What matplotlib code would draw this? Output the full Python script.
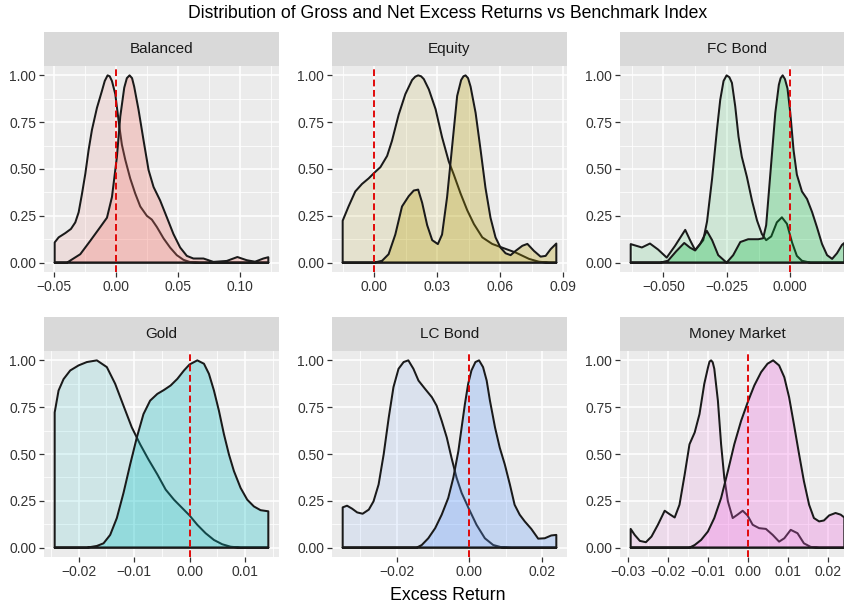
import matplotlib.pyplot as plt
from matplotlib.colors import to_rgba

plt.rcParams['font.family'] = ['Liberation Sans', 'DejaVu Sans']

# densities scaled so each curve peaks at 1
balanced_x_net = [-0.0493, -0.0461, -0.0407, -0.0362, -0.0327, -0.0300, -0.0273, -0.0246, -0.0220, -0.0193,
                  -0.0153, -0.0113, -0.0090, -0.0067, -0.0050, -0.0032, -0.0005, 0.0008, 0.0027, 0.0048,
                  0.0075, 0.0115, 0.0155, 0.0196, 0.0249, 0.0289, 0.0330, 0.0383, 0.0437, 0.0490,
                  0.0544, 0.0597, 0.0678, 0.1227]
balanced_net = [0.108, 0.135, 0.158, 0.180, 0.215, 0.269, 0.368, 0.476, 0.601, 0.709,
                0.826, 0.916, 0.970, 1.000, 0.995, 0.970, 0.900, 0.830, 0.730, 0.630,
                0.550, 0.450, 0.370, 0.300, 0.250, 0.230, 0.190, 0.130, 0.080, 0.040,
                0.015, 0.003, 0.000, 0.000]
balanced_x_gross = [-0.0493, -0.0394, -0.0287, -0.0206, -0.0126, -0.0072, -0.0032, 0.0008, 0.0035, 0.0067,
                    0.0088, 0.0110, 0.0130, 0.0147, 0.0182, 0.0222, 0.0263, 0.0303, 0.0356, 0.0410,
                    0.0463, 0.0517, 0.0571, 0.0624, 0.0705, 0.0785, 0.0892, 0.0978, 0.1053, 0.1120,
                    0.1187, 0.1227]
balanced_gross = [0.0, 0.0, 0.045, 0.117, 0.19, 0.24, 0.35, 0.565, 0.78, 0.934,
                  0.985, 1.0, 0.985, 0.94, 0.817, 0.655, 0.494, 0.404, 0.332, 0.242,
                  0.153, 0.081, 0.036, 0.022, 0.022, 0.004, 0.009, 0.03, 0.013, 0.005,
                  0.022, 0.029]

equity_x_net = [-0.0151, -0.0123, -0.0091, -0.0059, -0.0027, 0.0, 0.0029, 0.0061, 0.0084, 0.0116,
                0.0148, 0.0180, 0.0195, 0.0209, 0.0223, 0.0236, 0.0260, 0.0292, 0.0323, 0.0355,
                0.0379, 0.0411, 0.0443, 0.0475, 0.0515, 0.0562, 0.0610, 0.0674, 0.0738, 0.0785,
                0.0833, 0.0868]
equity_net = [0.224, 0.30, 0.38, 0.42, 0.45, 0.48, 0.51, 0.57, 0.65, 0.79,
              0.90, 0.975, 0.993, 1.0, 0.995, 0.98, 0.925, 0.82, 0.67, 0.54,
              0.47, 0.37, 0.28, 0.206, 0.135, 0.10, 0.08, 0.054, 0.02, 0.005,
              0.0, 0.0]
equity_x_gross = [-0.0151, 0.0, 0.0037, 0.0068, 0.0100, 0.0132, 0.0164, 0.0188, 0.0209, 0.0228,
                  0.0252, 0.0276, 0.0303, 0.0323, 0.0347, 0.0363, 0.0379, 0.0395, 0.0414, 0.0425,
                  0.0435, 0.0447, 0.0459, 0.0483, 0.0507, 0.0530, 0.0554, 0.0578, 0.0602, 0.0626,
                  0.0650, 0.0674, 0.0706, 0.0730, 0.0761, 0.0793, 0.0817, 0.0841, 0.0868]
equity_gross = [0.0, 0.0, 0.01, 0.045, 0.15, 0.30, 0.355, 0.385, 0.39, 0.32,
                0.20, 0.12, 0.099, 0.15, 0.35, 0.53, 0.71, 0.89, 0.975, 0.995,
                1.0, 0.985, 0.94, 0.80, 0.60, 0.40, 0.24, 0.135, 0.08, 0.05,
                0.04, 0.063, 0.09, 0.10, 0.063, 0.032, 0.036, 0.072, 0.102]

fc_x_net = [-0.0629, -0.0585, -0.0553, -0.0521, -0.0487, -0.0454, -0.0414, -0.0395, -0.0375, -0.0343,
            -0.0328, -0.0308, -0.0289, -0.0276, -0.0263, -0.0251, -0.0240, -0.0230, -0.0217, -0.0204,
            -0.0191, -0.0171, -0.0151, -0.0131, -0.0112, -0.0095, -0.0075, -0.0053, -0.0033, -0.0013,
            0.0007, 0.0026, 0.0046, 0.0079, 0.0213]
fc_net = [0.099, 0.081, 0.102, 0.07, 0.027, 0.09, 0.175, 0.12, 0.067, 0.12,
          0.22, 0.45, 0.71, 0.87, 0.97, 1.0, 0.99, 0.96, 0.835, 0.673,
          0.565, 0.458, 0.332, 0.225, 0.153, 0.12, 0.14, 0.215, 0.242, 0.207,
          0.108, 0.036, 0.01, 0.0, 0.0]
fc_x_gross = [-0.0629, -0.0513, -0.0482, -0.0450, -0.0418, -0.0395, -0.0375, -0.0355, -0.0329, -0.0308,
              -0.0284, -0.0251, -0.0225, -0.0197, -0.0166, -0.0126, -0.0107, -0.0095, -0.0083, -0.0071,
              -0.0059, -0.0045, -0.0038, -0.0030, -0.0021, -0.0011, 0.0, 0.0013, 0.0026, 0.0046,
              0.0066, 0.0086, 0.0105, 0.0125, 0.0145, 0.0165, 0.0184, 0.0204, 0.0213]
fc_gross = [0.0, 0.0, 0.01, 0.06, 0.105, 0.08, 0.065, 0.10, 0.17, 0.12,
            0.04, 0.0, 0.04, 0.11, 0.125, 0.125, 0.13, 0.20, 0.40, 0.60,
            0.80, 0.95, 0.985, 1.0, 0.98, 0.93, 0.80, 0.60, 0.47, 0.38,
            0.34, 0.27, 0.19, 0.10, 0.04, 0.02, 0.05, 0.095, 0.105]

gold_x_net = [-0.0243, -0.0236, -0.0227, -0.0215, -0.0200, -0.0185, -0.0167, -0.0149, -0.0134, -0.0119,
              -0.0104, -0.0089, -0.0074, -0.0058, -0.0043, -0.0028, -0.0013, 0.0, 0.0014, 0.0029,
              0.0044, 0.0059, 0.0074, 0.0092, 0.0142]
gold_net = [0.722, 0.839, 0.90, 0.946, 0.973, 0.991, 1.0, 0.964, 0.875, 0.758,
            0.642, 0.552, 0.471, 0.391, 0.31, 0.256, 0.211, 0.172, 0.122, 0.077,
            0.041, 0.018, 0.005, 0.0, 0.0]
gold_x_gross = [-0.0243, -0.0185, -0.0167, -0.0155, -0.0143, -0.0131, -0.0119, -0.0107, -0.0095, -0.0083,
                -0.0071, -0.0058, -0.0046, -0.0034, -0.0022, -0.0010, 0.0, 0.0014, 0.0026, 0.0035,
                0.0044, 0.0053, 0.0062, 0.0071, 0.0080, 0.0092, 0.0104, 0.0116, 0.0128, 0.0142]
gold_gross = [0.0, 0.0, 0.009, 0.023, 0.068, 0.158, 0.292, 0.444, 0.588, 0.713,
              0.785, 0.821, 0.842, 0.866, 0.901, 0.946, 0.978, 1.0, 0.982, 0.928,
              0.839, 0.731, 0.606, 0.498, 0.409, 0.319, 0.256, 0.22, 0.20, 0.194]

lc_x_net = [-0.0349, -0.0337, -0.0323, -0.0309, -0.0294, -0.0277, -0.0264, -0.0250, -0.0236, -0.0222,
            -0.0209, -0.0195, -0.0181, -0.0168, -0.0154, -0.0140, -0.0122, -0.0103, -0.0090, -0.0076,
            -0.0062, -0.0049, -0.0035, -0.0021, 0.0, 0.0020, 0.0043, 0.0066, 0.0089, 0.0116, 0.0240]
lc_net = [0.215, 0.224, 0.208, 0.188, 0.181, 0.203, 0.247, 0.337, 0.498, 0.695,
          0.857, 0.955, 0.991, 1.0, 0.955, 0.892, 0.848, 0.803, 0.758, 0.677,
          0.588, 0.48, 0.373, 0.292, 0.203, 0.122, 0.05, 0.014, 0.002, 0.0, 0.0]
lc_x_gross = [-0.0349, -0.0145, -0.0131, -0.0113, -0.0094, -0.0076, -0.0058, -0.0044, -0.0030, -0.0021,
              -0.0012, -0.0003, 0.0006, 0.0017, 0.0027, 0.0038, 0.0048, 0.0057, 0.0071, 0.0084,
              0.0098, 0.0112, 0.0125, 0.0139, 0.0153, 0.0171, 0.0190, 0.0208, 0.0226, 0.0240]
lc_gross = [0.0, 0.0, 0.014, 0.05, 0.104, 0.176, 0.265, 0.373, 0.516, 0.642,
            0.767, 0.875, 0.946, 0.991, 1.0, 0.964, 0.892, 0.785, 0.642, 0.534,
            0.444, 0.337, 0.229, 0.176, 0.14, 0.10, 0.048, 0.05, 0.065, 0.068]

mm_x_net = [-0.0294, -0.0284, -0.0271, -0.0256, -0.0242, -0.0226, -0.0209, -0.0197, -0.0184, -0.0172,
            -0.0159, -0.0147, -0.0134, -0.0122, -0.0110, -0.0101, -0.0097, -0.0093, -0.0089, -0.0085,
            -0.0076, -0.0068, -0.0060, -0.0051, -0.0039, -0.0027, -0.0014, -0.0002, 0.0011, 0.0027,
            0.0044, 0.0061, 0.0077, 0.0090, 0.0106, 0.0123, 0.0139, 0.0156, 0.0177, 0.0240]
mm_net = [0.10, 0.068, 0.036, 0.029, 0.059, 0.122, 0.197, 0.179, 0.161, 0.229,
          0.391, 0.552, 0.615, 0.713, 0.875, 0.96, 0.993, 1.0, 0.99, 0.955,
          0.785, 0.552, 0.373, 0.247, 0.158, 0.176, 0.197, 0.172, 0.122, 0.104,
          0.10, 0.068, 0.032, 0.05, 0.095, 0.077, 0.023, 0.004, 0.0, 0.0]
mm_x_gross = [-0.0294, -0.0147, -0.0134, -0.0118, -0.0101, -0.0085, -0.0068, -0.0051, -0.0035, -0.0018,
              0.0, 0.0015, 0.0032, 0.0048, 0.0062, 0.0077, 0.0090, 0.0102, 0.0114, 0.0127,
              0.0139, 0.0152, 0.0164, 0.0177, 0.0189, 0.0202, 0.0218, 0.0231, 0.0240]
mm_gross = [0.0, 0.0, 0.014, 0.041, 0.086, 0.158, 0.265, 0.409, 0.552, 0.677,
            0.785, 0.866, 0.937, 0.982, 1.0, 0.973, 0.91, 0.803, 0.659, 0.498,
            0.355, 0.229, 0.158, 0.14, 0.145, 0.172, 0.185, 0.176, 0.161]

# axis breaks
balanced_ticks = [-0.05, 0.0, 0.05, 0.10]
balanced_labels = ['\u22120.05', '0.00', '0.05', '0.10']
equity_ticks = [0.0, 0.03, 0.06, 0.09]
equity_labels = ['0.00', '0.03', '0.06', '0.09']
fc_ticks = [-0.050, -0.025, 0.0]
fc_labels = ['\u22120.050', '\u22120.025', '0.000']
gold_ticks = [-0.02, -0.01, 0.0, 0.01]
gold_labels = ['\u22120.02', '\u22120.01', '0.00', '0.01']
lc_ticks = [-0.02, 0.0, 0.02]
lc_labels = ['\u22120.02', '0.00', '0.02']
mm_ticks = [-0.03, -0.02, -0.01, 0.0, 0.01, 0.02]
mm_labels = ['\u22120.03', '\u22120.02', '\u22120.01', '0.00', '0.01', '0.02']
y_ticks = [0.0, 0.25, 0.50, 0.75, 1.00]
y_labels = ['0.00', '0.25', '0.50', '0.75', '1.00']

facets = ['Balanced', 'Equity', 'FC Bond', 'Gold', 'LC Bond', 'Money Market']
colors = ['#F8766D', '#B79F00', '#00BA38', '#00BFC4', '#619CFF', '#F564E3']

panels = [
    (balanced_x_net, balanced_net, balanced_x_gross, balanced_gross, balanced_ticks, balanced_labels),
    (equity_x_net, equity_net, equity_x_gross, equity_gross, equity_ticks, equity_labels),
    (fc_x_net, fc_net, fc_x_gross, fc_gross, fc_ticks, fc_labels),
    (gold_x_net, gold_net, gold_x_gross, gold_gross, gold_ticks, gold_labels),
    (lc_x_net, lc_net, lc_x_gross, lc_gross, lc_ticks, lc_labels),
    (mm_x_net, mm_net, mm_x_gross, mm_gross, mm_ticks, mm_labels),
]

W, H = 845, 606
col_left = [44, 332, 620]
row_top = [66, 351]
pw, ph, sh = 235, 206, 34

fig = plt.figure(figsize=(W / 100, H / 100), dpi=100)
fig.patch.set_facecolor('white')

for i, (name, col, p) in enumerate(zip(facets, colors, panels)):
    xn, yn, xg, yg, ticks, labels = p
    r, c = divmod(i, 3)
    x0, y0 = col_left[c], row_top[r]
    ax = fig.add_axes([x0 / W, 1 - (y0 + ph) / H, pw / W, ph / H])
    st = fig.add_axes([x0 / W, 1 - y0 / H, pw / W, sh / H])

    # strip
    st.set_facecolor('#D9D9D9')
    st.set_xticks([])
    st.set_yticks([])
    for s in st.spines.values():
        s.set_visible(False)
    st.text(0.5, 0.5, name, ha='center', va='center', fontsize=11,
            color='#1A1A1A', transform=st.transAxes)

    ax.set_facecolor('#EBEBEB')
    for s in ax.spines.values():
        s.set_visible(False)

    # net first, gross on top (as ggplot draws groups in order)
    for xs, ys, a in [(xn, yn, 0.12), (xg, yg, 0.28)]:
        ax.fill([xs[0]] + xs + [xs[-1]], [0] + ys + [0],
                facecolor=to_rgba(col, a), edgecolor='#1A1A1A',
                linewidth=1.45, joinstyle='round', zorder=2)

    ax.axvline(0, color='#E00000', linestyle=(0, (3.6, 1.9)), linewidth=1.35, zorder=3)

    ax.set_xticks(ticks)
    ax.set_xticklabels(labels)
    step = ticks[1] - ticks[0]
    ax.set_xticks([t + step / 2 for t in [ticks[0] - step] + ticks], minor=True)
    ax.set_yticks(y_ticks)
    ax.set_yticklabels(y_labels)
    ax.set_yticks([0.125, 0.375, 0.625, 0.875], minor=True)

    # limits after ticks, ggplot style 5% expansion
    lo = min(xn[0], xg[0])
    hi = max(xn[-1], xg[-1])
    pad = 0.05 * (hi - lo)
    ax.set_xlim(lo - pad, hi + pad)
    ax.set_ylim(-0.05, 1.05)

    ax.grid(which='major', color='white', linewidth=1.1, zorder=0)
    ax.grid(which='minor', color='white', linewidth=0.55, zorder=0)
    ax.set_axisbelow(True)
    ax.tick_params(which='major', length=3.5, width=0.9, color='#333333',
                   labelsize=10, labelcolor='#333333', pad=2)
    ax.tick_params(which='minor', length=0)

fig.text(447.5 / W, 1 - 14 / H, 'Distribution of Gross and Net Excess Returns vs Benchmark Index',
         ha='center', va='center', fontsize=12.7, color='black')
fig.text(448 / W, 1 - 596 / H, 'Excess Return', ha='center', va='center', fontsize=12.8, color='black')

fig.savefig('out.png', dpi=100)
